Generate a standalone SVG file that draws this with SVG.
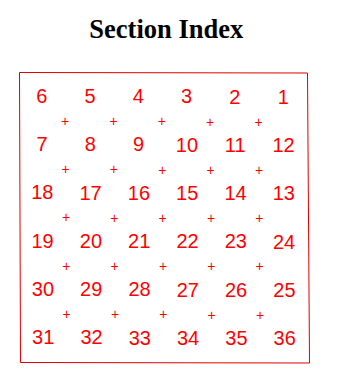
<svg xmlns="http://www.w3.org/2000/svg" width="342" height="384" viewBox="0 0 342 384">
<style>
.title{font-family:"Liberation Serif","Times New Roman",serif;font-weight:bold;font-size:26.5px;fill:#000;text-anchor:middle}
.n{font-family:"Liberation Sans",Arial,sans-serif;font-size:20px;fill:#ff0000;text-anchor:middle}
.p{font-family:"Liberation Sans",Arial,sans-serif;font-size:14px;fill:#ff0000;text-anchor:middle}
.frame{fill:none;stroke:#e00000;stroke-width:1}
</style>
<rect width="342" height="384" fill="#fff"/>
<text id="title" class="title" x="166.3" y="37.7">Section Index</text>
<polygon id="frame" class="frame" points="19.5,72.5 307.5,73 309.5,363 20.5,362.5"/>
<g id="numbers">
<text class="n" x="41.7" y="102.7">6</text><text class="n" x="90" y="102.9">5</text><text class="n" x="138.3" y="103.1">4</text><text class="n" x="186.6" y="103.3">3</text><text class="n" x="234.9" y="103.5">2</text><text class="n" x="283.2" y="103.7">1</text>
<text class="n" x="42" y="151">7</text><text class="n" x="90.3" y="151.2">8</text><text class="n" x="138.6" y="151.4">9</text><text class="n" x="186.9" y="151.6">10</text><text class="n" x="235.2" y="151.8">11</text><text class="n" x="283.5" y="152">12</text>
<text class="n" x="42.3" y="199.3">18</text><text class="n" x="90.6" y="199.5">17</text><text class="n" x="138.9" y="199.7">16</text><text class="n" x="187.2" y="199.9">15</text><text class="n" x="235.5" y="200.1">14</text><text class="n" x="283.8" y="200.3">13</text>
<text class="n" x="42.6" y="247.6">19</text><text class="n" x="90.9" y="247.8">20</text><text class="n" x="139.2" y="248">21</text><text class="n" x="187.5" y="248.2">22</text><text class="n" x="235.8" y="248.4">23</text><text class="n" x="284.1" y="248.6">24</text>
<text class="n" x="42.9" y="295.9">30</text><text class="n" x="91.2" y="296.1">29</text><text class="n" x="139.5" y="296.3">28</text><text class="n" x="187.8" y="296.5">27</text><text class="n" x="236.1" y="296.7">26</text><text class="n" x="284.4" y="296.9">25</text>
<text class="n" x="43.2" y="344.2">31</text><text class="n" x="91.5" y="344.4">32</text><text class="n" x="139.8" y="344.6">33</text><text class="n" x="188.1" y="344.8">34</text><text class="n" x="236.4" y="345">35</text><text class="n" x="284.7" y="345.2">36</text>
</g>
<g id="plus">
<text class="p" x="65.2" y="125.9">+</text><text class="p" x="113.5" y="126.1">+</text><text class="p" x="161.9" y="126.3">+</text><text class="p" x="210.2" y="126.5">+</text><text class="p" x="258.6" y="126.7">+</text>
<text class="p" x="65.6" y="174.1">+</text><text class="p" x="113.9" y="174.3">+</text><text class="p" x="162.3" y="174.5">+</text><text class="p" x="210.6" y="174.7">+</text><text class="p" x="259" y="174.9">+</text>
<text class="p" x="66" y="222.3">+</text><text class="p" x="114.3" y="222.5">+</text><text class="p" x="162.7" y="222.7">+</text><text class="p" x="211" y="222.9">+</text><text class="p" x="259.4" y="223.1">+</text>
<text class="p" x="66.3" y="270.6">+</text><text class="p" x="114.6" y="270.8">+</text><text class="p" x="163" y="271">+</text><text class="p" x="211.3" y="271.2">+</text><text class="p" x="259.7" y="271.4">+</text>
<text class="p" x="66.7" y="318.9">+</text><text class="p" x="115" y="319.1">+</text><text class="p" x="163.4" y="319.3">+</text><text class="p" x="211.7" y="319.5">+</text><text class="p" x="260.1" y="319.7">+</text>
</g>
</svg>
